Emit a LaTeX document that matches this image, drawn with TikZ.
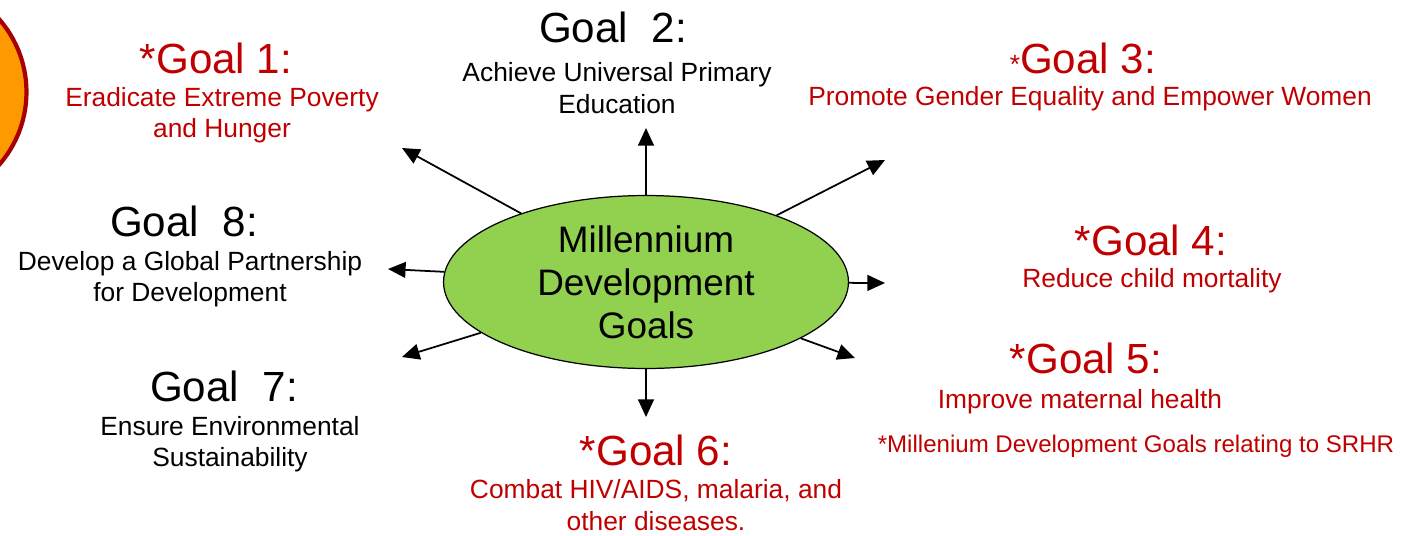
\documentclass[tikz,border=0pt]{standalone}
\usepackage{fontspec}
\setmainfont{Liberation Sans}
\usetikzlibrary{arrows.meta,shapes.geometric}
\definecolor{mdgred}{RGB}{192,0,0}
\definecolor{mdggreen}{RGB}{146,208,80}
\definecolor{sunorange}{RGB}{255,153,0}
\definecolor{sunrim}{RGB}{168,0,0}

\begin{document}
\begin{tikzpicture}[x=0.02cm, y=-0.02cm,
    title/.style={font=\fontsize{24}{28}\selectfont, inner sep=0},
    desc/.style={font=\fontsize{15}{18}\selectfont, align=center, inner sep=0},
    goalarrow/.style={-{Triangle[length=10pt, width=9pt]}, line width=1pt}]
  \useasboundingbox (0,0) rectangle (1421,535);

  % the orange disc at the left edge
  \begin{scope}
    \clip (0,0) rectangle (1421,535);
    \draw[sunrim, line width=2.4pt, fill=sunorange]
      (-84,92) circle[radius=2.21cm];
  \end{scope}

  \node[draw, ellipse, fill=mdggreen, line width=0.7pt,
        minimum width=8.1cm, minimum height=3.46cm, inner sep=0,
        align=center, font=\fontsize{21}{24.5}\selectfont]
    (mdg) at (646,282) {Millennium\\Development\\Goals};

  \node[title, mdgred] (g1t) at (216,58) {*Goal 1:};
  \node[desc, mdgred]  (g1)  at (222,115) {Eradicate Extreme Poverty\\and Hunger};

  \node[title] (g2t) at (613,27) {Goal\ \ 2:};
  \node[desc]  (g2)  at (617,88) {Achieve Universal Primary\\Education};

  \node[title, mdgred] (g3t) at (1083,58)
    {{\fontsize{15}{15}\selectfont *}Goal 3:};
  \node[desc, mdgred]  (g3)  at (1090,99) {Promote Gender Equality and Empower Women};

  \node[title, mdgred] (g4t) at (1151,240) {*Goal 4:};
  \node[desc, mdgred]  (g4)  at (1152,281) {Reduce child mortality};

  \node[title, mdgred] (g5t) at (1086,358) {*Goal 5:};
  \node[desc, mdgred]  (g5)  at (1080,402) {Improve maternal health};

  \node[mdgred, inner sep=0, font=\fontsize{13.7}{16}\selectfont]
    (srhr) at (1136,446) {*Millenium Development Goals relating to SRHR};

  \node[title, mdgred] (g6t) at (656,450) {*Goal 6:};
  \node[desc, mdgred]  (g6)  at (656,505) {Combat HIV/AIDS, malaria, and\\other diseases.};

  \node[title] (g7t) at (224,386) {Goal\ \ 7:};
  \node[desc]  (g7)  at (230,444) {Ensure Environmental\\Sustainability};

  \node[title] (g8t) at (184,221) {Goal\ \ 8:};
  \node[desc]  (g8)  at (190,279) {Develop a Global Partnership\\for Development};

  % arrow ends
  \coordinate (a1) at (402,148);
  \coordinate (a2) at (646,128);
  \coordinate (a3) at (885,160);
  \coordinate (a4) at (885,283);
  \coordinate (a5) at (855,358);
  \coordinate (a6) at (646,417);
  \coordinate (a7) at (402,357);
  \coordinate (a8) at (388,269);

  \draw[goalarrow]
    (mdg) edge (a1)
    (mdg) edge (a2)
    (mdg) edge (a3)
    (mdg) edge (a4)
    (mdg) edge (a5)
    (mdg) edge (a6)
    (mdg) edge (a7)
    (mdg) edge (a8);
\end{tikzpicture}
\end{document}
